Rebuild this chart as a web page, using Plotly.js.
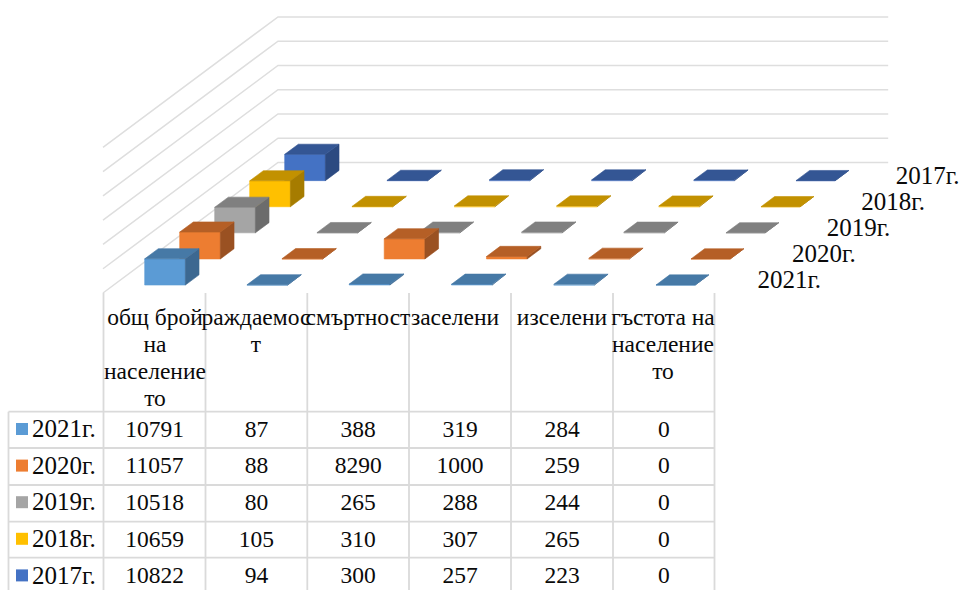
<!DOCTYPE html>
<html><head><meta charset="utf-8">
<script src="https://cdn.plot.ly/plotly-3.0.1.min.js"></script>
<style>html,body{margin:0;padding:0;background:#fff}#c{width:960px;height:590px}</style>
</head><body><div id="c"></div>
<script>
// ---- data ----
var categories = ['общ брой на население то','раждаемост','смъртност','заселени','изселени','гъстота на население то'];
var headerLines = [['общ брой','на','население','то'],['раждаемос','т'],['смъртност'],['заселени'],['изселени'],['гъстота на','население','то']];
var years = ['2021г.','2020г.','2019г.','2018г.','2017г.'];
var v2021 = [10791,87,388,319,284,0];
var v2020 = [11057,88,8290,1000,259,0];
var v2019 = [10518,80,265,288,244,0];
var v2018 = [10659,105,310,307,265,0];
var v2017 = [10822,94,300,257,223,0];
var gridValues = [0,10000,20000,30000,40000,50000,60000];
var frontColors = ['#5B9BD5','#ED7D31','#A5A5A5','#FFC000','#4472C4'];
var topColors   = ['#4679A6','#B55F26','#808080','#C29100','#345694'];
var sideColors  = ['#3C6891','#9A5122','#6C6C6C','#A67C00','#2C4A81'];
var rows = [v2021,v2020,v2019,v2018,v2017];

// ---- oblique projection: (category, depth, value) -> axis coordinates ----
var W=960,H=590,X0=103,Y0=293,CAT=101.7,UNIT=24.27/10000,DX=35,DY=26.1;
var xPerDepth=DX/CAT, yPerDepth=DY/UNIT;
function P(c,d,z){return [c+d*xPerDepth, z+d*yPerDepth];}
var traces=[];
function poly(list,color){
  var xs=[],ys=[];
  list.forEach(function(pts){pts.forEach(function(p){xs.push(p[0]);ys.push(p[1]);});
    xs.push(pts[0][0]);ys.push(pts[0][1]);xs.push(null);ys.push(null);});
  traces.push({type:'scatter',mode:'lines',x:xs,y:ys,fill:'toself',fillcolor:color,
    line:{color:color,width:0.6},hoverinfo:'skip',showlegend:false,connectgaps:false});
}
// wall gridlines
var gx=[],gy=[];
gridValues.forEach(function(z){
  var a=P(0,0,z),b=P(0,5,z),e=P(6,5,z);
  gx.push(a[0],b[0],e[0],null);gy.push(a[1],b[1],e[1],null);
});
traces.push({type:'scatter',mode:'lines',x:gx,y:gy,line:{color:'#DEDEDE',width:1.5},hoverinfo:'skip',showlegend:false});

// bars, back row first
var BAR_L=0.305,BAR_W=0.4,D0=0.305,D1=0.695,STEP=1.0055;
for(var s=4;s>=0;s--){
  var tops=[],sides=[],fronts=[];
  rows[s].forEach(function(v,i){
    var l=i*STEP+BAR_L,r=l+(i===5?0.385:BAR_W),a=s+D0,b=s+D1;
    fronts.push([P(l,a,0),P(r,a,0),P(r,a,v),P(l,a,v)]);
    sides.push([P(r,a,0),P(r,b,0),P(r,b,v),P(r,a,v)]);
    tops.push([P(l,a,v),P(r,a,v),P(r,b,v),P(l,b,v)]);
  });
  poly(fronts,frontColors[s]);poly(sides,sideColors[s]);poly(tops,topColors[s]);
}
// depth-axis labels
var lx=[],ly=[];
years.forEach(function(y,s){var p=P(6.435-0.004*s,s,4550);lx.push(p[0]);ly.push(p[1]);});
var FONT={family:'"Liberation Serif","Times New Roman",serif',size:23.5,color:'#0a0a0a'};
var YEARFONT={family:FONT.family,size:25,color:FONT.color};
traces.push({type:'scatter',mode:'text',x:lx,y:ly,text:years,textposition:'middle right',
  textfont:YEARFONT,hoverinfo:'skip',showlegend:false});

// ---- data table (pixel overlay axes) ----
var tL=8.5,colX=[103.5,205.5,307.3,409,511,613,714.5],rowY=[411.7,448,485,521.7,557.7,594];
var tx=[],ty=[];
colX.forEach(function(x){tx.push(x,x,null);ty.push(293,594,null);});
tx.push(tL,tL,null);ty.push(rowY[0],594,null);
rowY.forEach(function(y){tx.push(tL,colX[6],null);ty.push(y,y,null);});
traces.push({type:'scatter',mode:'lines',xaxis:'x2',yaxis:'y2',x:tx,y:ty,line:{color:'#DADADA',width:1.8},hoverinfo:'skip',showlegend:false});
var cx=[],cy=[],ct=[];
rows.forEach(function(r,s){r.forEach(function(v,i){
  cx.push((colX[i]+colX[i+1])/2);cy.push(431+s*36.6);ct.push(String(v));});});
var headX=[155,256,358,455,562,663];
headerLines.forEach(function(lines,i){lines.forEach(function(t,j){
  cx.push(headX[i]);cy.push(319+j*27.2);ct.push(t);});});
traces.push({type:'scatter',mode:'text',xaxis:'x2',yaxis:'y2',x:cx,y:cy,text:ct,textposition:'middle center',textfont:FONT,hoverinfo:'skip',showlegend:false});
var kx=[],ky=[],ky2=[];
years.forEach(function(y,s){kx.push(22);ky.push(429+s*36.6);ky2.push(32);});
traces.push({type:'scatter',mode:'markers',xaxis:'x2',yaxis:'y2',x:kx,y:ky,marker:{symbol:'square',size:12,color:frontColors},hoverinfo:'skip',showlegend:false});
traces.push({type:'scatter',mode:'text',xaxis:'x2',yaxis:'y2',x:ky2,y:ky.map(function(v){return v+2;}),text:years,textposition:'middle right',textfont:YEARFONT,hoverinfo:'skip',showlegend:false});

var hidden={visible:false,showgrid:false,zeroline:false,fixedrange:true};
var layout={width:W,height:H,margin:{l:0,r:0,t:0,b:0},paper_bgcolor:'#fff',plot_bgcolor:'#fff',showlegend:false,
  xaxis:Object.assign({range:[-X0/CAT,(W-X0)/CAT]},hidden),
  yaxis:Object.assign({range:[(Y0-H)/UNIT,Y0/UNIT]},hidden),
  xaxis2:Object.assign({range:[0,W],overlaying:'x',anchor:'y2'},hidden),
  yaxis2:Object.assign({range:[H,0],overlaying:'y',anchor:'x2'},hidden)};
Plotly.newPlot('c',traces,layout,{displayModeBar:false,staticPlot:true});
</script></body></html>
